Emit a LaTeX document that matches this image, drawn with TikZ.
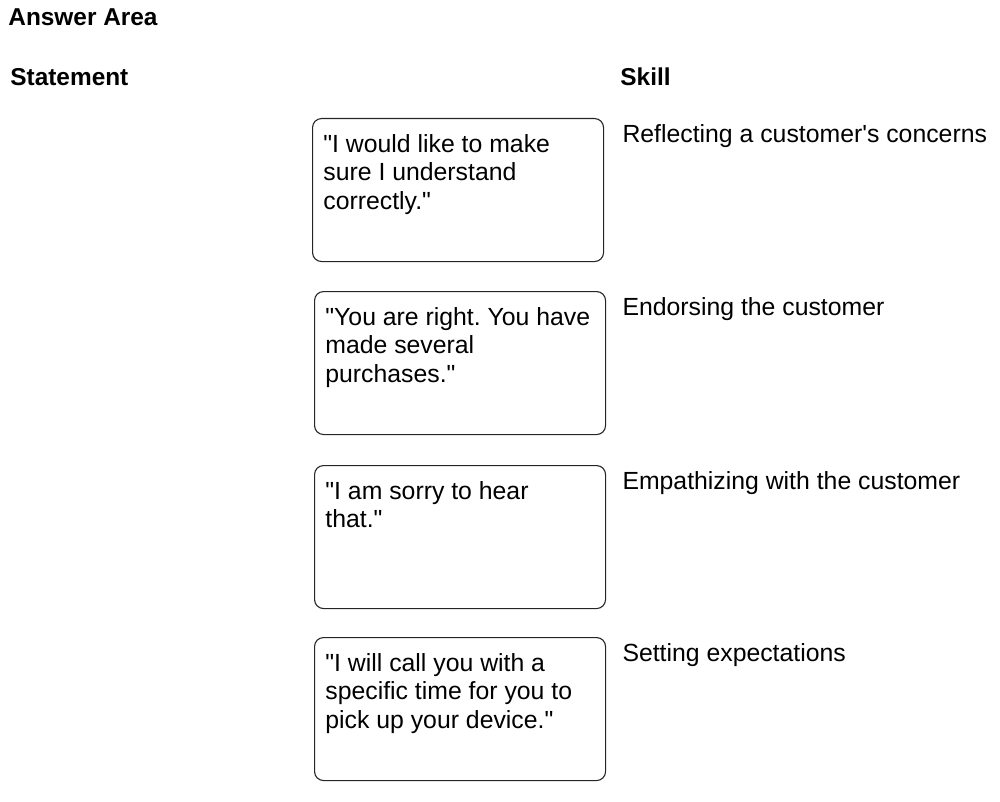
\documentclass[tikz,border=0pt]{standalone}
\usepackage{fontspec}
\setmainfont{Liberation Sans}[Ligatures=TeXOff]
\frenchspacing
\begin{document}
\begin{tikzpicture}[x=0.5pt,y=-0.5pt,
		stmtbox/.style={draw=black!85,line width=0.55pt,rounded corners=4.5pt,
			minimum width=145.5pt,minimum height=71.5pt,inner sep=0pt,anchor=north west},
		stmttext/.style={anchor=north west,inner sep=0pt,align=left,
			font=\fontsize{12.4}{14.25}\selectfont},
		skilltext/.style={anchor=north west,inner sep=0pt,
			font=\fontsize{12.4}{14.25}\selectfont},
		heading/.style={anchor=west,inner sep=0pt,font=\fontsize{12.2}{14}\selectfont\bfseries}]
			\useasboundingbox (0,0) rectangle (1000,802);
			\node[heading](answer) at (8,17) {Answer Area};
			\node[heading](statement) at (10,77) {Statement};
			\node[heading](skill) at (620,77) {Skill};
			% statement boxes
			\node[stmtbox](box1) at (312,118) {};
			\node[stmtbox](box2) at (314,291) {};
			\node[stmtbox](box3) at (314,465) {};
			\node[stmtbox](box4) at (314,637) {};
			\node[stmttext](text1) at ([shift={(11,16)}]box1.north west)
				{"I would like to make\\sure I understand\\correctly."};
			\node[stmttext](text2) at ([shift={(11,16)}]box2.north west)
				{"You are right. You have\\made several\\purchases."};
			\node[stmttext](text3) at ([shift={(11,16)}]box3.north west)
				{"I am sorry to hear\\that."};
			\node[stmttext](text4) at ([shift={(11,16)}]box4.north west)
				{"I will call you with a\\specific time for you to\\pick up your device."};
			% skills
			\node[skilltext](skill1) at ([shift={(18,6)}]box1.north east)
				{Reflecting a customer's concerns};
			\node[skilltext](skill2) at ([shift={(16,6)}]box2.north east)
				{Endorsing the customer};
			\node[skilltext](skill3) at ([shift={(16,6)}]box3.north east)
				{Empathizing with the customer};
			\node[skilltext](skill4) at ([shift={(16,6)}]box4.north east)
				{Setting expectations};
\end{tikzpicture}
\end{document}
